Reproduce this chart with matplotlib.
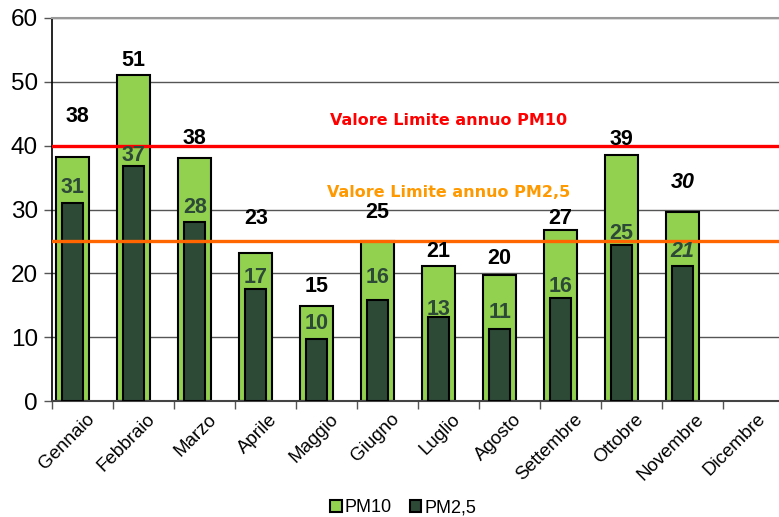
import numpy as np
import matplotlib
matplotlib.use("Agg")
import matplotlib.pyplot as plt
from matplotlib.patches import Patch

mesi = ['Gennaio', 'Febbraio', 'Marzo', 'Aprile', 'Maggio', 'Giugno',
        'Luglio', 'Agosto', 'Settembre', 'Ottobre', 'Novembre', 'Dicembre']
pm10 = [38.2, 51.0, 38.0, 23.2, 14.9, 25.1, 21.1, 19.8, 26.8, 38.6, 29.6, np.nan]
pm25 = [31.0, 36.8, 28.1, 17.5, 9.7, 15.8, 13.2, 11.3, 16.2, 24.5, 21.1, np.nan]
lab10 = ['38', '51', '38', '23', '15', '25', '21', '20', '27', '39', '30', '']
lab25 = ['31', '37', '28', '17', '10', '16', '13', '11', '16', '25', '21', '']
# where the labels sit (data units, as placed in the original)
lab10_y = [44.5, 53.4, 41.2, 28.6, 17.9, 29.6, 23.4, 22.3, 28.6, 40.9, 34.2]
lab25_y = [33.4, 38.4, 30.3, 19.3, 12.1, 19.3, 14.3, 13.8, 17.9, 26.3, 23.4]

lim_pm10 = 40
lim_pm25 = 25

verde = '#92d050'
scuro = '#2d4a37'

fig = plt.figure(figsize=(7.79, 5.17), dpi=100)
ax = fig.add_axes([52/779, 1-401/517, 1-52/779, 383/517])

x = np.arange(len(mesi))
off = -0.16
ax.bar(x + off, pm10, width=0.54, color=verde, edgecolor='black', linewidth=1.5, zorder=2)
ax.bar(x + off, pm25, width=0.34, color=scuro, edgecolor='black', linewidth=1.5, zorder=3)

ax.axhline(lim_pm10, color='#ff0000', lw=2.4, zorder=4)
ax.axhline(lim_pm25, color='#ff6600', lw=2.4, zorder=4)
ax.text(6.0, 43.9, 'Valore Limite annuo PM10', color='#ff0000', fontsize=11.5,
        fontweight='bold', family='DejaVu Sans', ha='center', va='center')
ax.text(6.0, 32.7, 'Valore Limite annuo PM2,5', color='#ff9900', fontsize=11.5,
        fontweight='bold', family='DejaVu Sans', ha='center', va='center')

for i in range(11):
    st = 'italic' if i == 10 else 'normal'
    ax.text(x[i] + off + (0.08 if i == 0 else 0), lab10_y[i], lab10[i], ha='center', va='center',
            fontsize=15.5, fontweight='bold', style=st, family='Liberation Sans', zorder=5)
    ax.text(x[i] + off, lab25_y[i], lab25[i], ha='center', va='center', color=scuro,
            fontsize=15.5, fontweight='bold', style=st, family='Liberation Sans', zorder=5)

ax.set_xlim(-0.5, 11.42)
ax.set_ylim(0, 60)
ax.set_yticks(range(0, 61, 10))
ax.set_yticklabels([str(v) for v in range(0, 61, 10)], fontsize=17.5, family='Liberation Sans')
ax.yaxis.grid(True, color='#555555', lw=1, zorder=0)
ax.set_axisbelow(True)

ax.set_xticks(x + 0.05)
ax.set_xticklabels(mesi, rotation=45, ha='right', rotation_mode='anchor',
                   fontsize=13.5, family='Liberation Sans')
ax.tick_params(axis='x', which='major', length=0, pad=7)
ax.set_xticks(np.arange(12) - 0.5, minor=True)
ax.tick_params(axis='x', which='minor', length=6, width=1, color='#555555')
ax.tick_params(axis='y', length=6, width=1, color='#555555', pad=4)

ax.spines['right'].set_visible(False)
ax.spines['top'].set_color('#999999')
ax.spines['top'].set_linewidth(1.5)
ax.spines['left'].set_color('black')
ax.spines['left'].set_linewidth(1.2)
ax.spines['bottom'].set_color('#444444')
ax.spines['bottom'].set_linewidth(1.5)

handles = [Patch(facecolor=verde, edgecolor='black', lw=1.5, label='PM10'),
           Patch(facecolor=scuro, edgecolor='black', lw=1.5, label='PM2,5')]
fig.legend(handles=handles, loc='center', bbox_to_anchor=(403/779, 1-508/517), ncol=2,
           frameon=False, prop={'family': 'Liberation Sans', 'size': 13},
           handlelength=0.65, handleheight=0.65, handletextpad=0.15, columnspacing=1.0)

fig.savefig('out.png', dpi=100)
